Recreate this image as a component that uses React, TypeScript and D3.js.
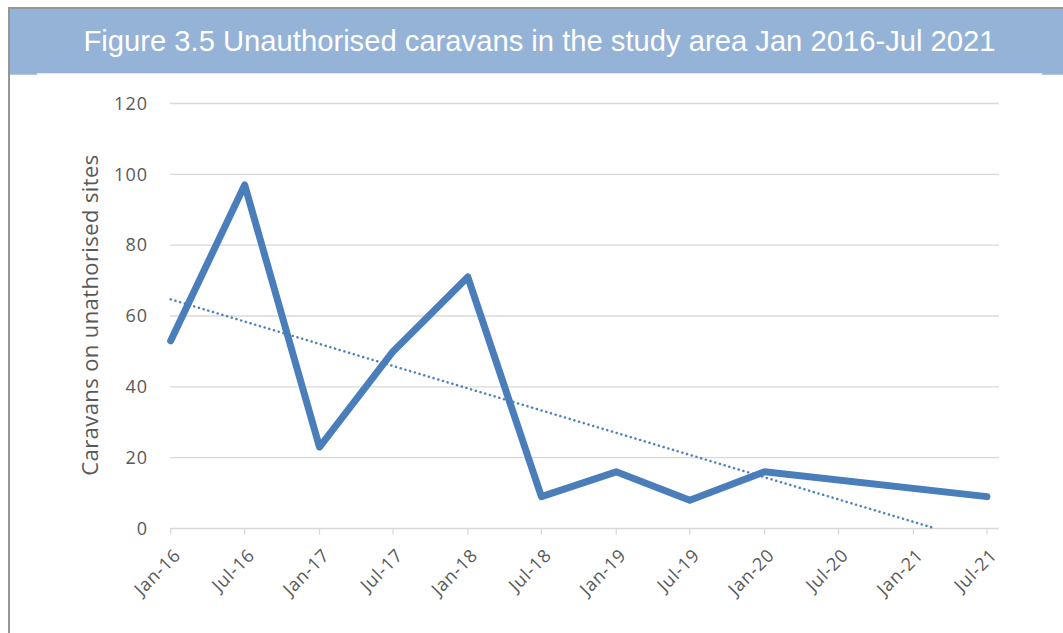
import React from "react";
import * as d3 from "d3";

const title = "Figure 3.5 Unauthorised caravans in the study area Jan 2016-Jul 2021";
const yAxisTitle = "Caravans on unathorised sites";

// observation dates (Jul-20 and Jan-21 have no count)
const dates = ["2016-01-01", "2016-07-01", "2017-01-01", "2017-07-01", "2018-01-01", "2018-07-01", "2019-01-01", "2019-07-01", "2020-01-01", "2021-07-01"];
const caravans = [53, 97, 23, 50, 71, 9, 16, 8, 16, 9];

const tickDates = ["2016-01-01", "2016-07-01", "2017-01-01", "2017-07-01", "2018-01-01", "2018-07-01", "2019-01-01", "2019-07-01", "2020-01-01", "2020-07-01", "2021-01-01", "2021-07-01"];
const tickLabels = ["Jan-16", "Jul-16", "Jan-17", "Jul-17", "Jan-18", "Jul-18", "Jan-19", "Jul-19", "Jan-20", "Jul-20", "Jan-21", "Jul-21"];
const yTicks = [0, 20, 40, 60, 80, 100, 120];

const parse = (s: string) => new Date(s + "T00:00:00Z");

export default function App() {
  const W = 1063, H = 633;
  const x = d3.scaleUtc().domain([parse("2016-01-01"), parse("2021-07-29")]).range([170.7, 998.3]);
  const y = d3.scaleLinear().domain([0, 120]).range([528.5, 103.5]);

  const pts = dates.map((d, i) => ({ d: parse(d), v: caravans[i] }));
  const line = d3.line<{ d: Date; v: number }>().x(p => x(p.d)).y(p => y(p.v));

  // linear trendline (least squares on day values)
  const day = (d: Date) => d.getTime() / 86400000;
  const xs = pts.map(p => day(p.d));
  const ys = pts.map(p => p.v);
  const mx = d3.mean(xs)!, my = d3.mean(ys)!;
  const sxy = d3.sum(xs.map((v, i) => (v - mx) * (ys[i] - my)));
  const sxx = d3.sum(xs.map(v => (v - mx) * (v - mx)));
  const slope = sxy / sxx;
  const icpt = my - slope * mx;
  const x0 = xs[0];
  let x1 = xs[xs.length - 1];
  const zeroX = -icpt / slope;
  if (zeroX < x1) x1 = zeroX;
  const tStart = new Date(x0 * 86400000), tEnd = new Date(x1 * 86400000);

  const grey = "#595959";
  const font = "'Open Sans', 'Liberation Sans', sans-serif";

  return (
    <svg width={W} height={H} style={{ position: "absolute", left: 0, top: 0, display: "block" }}>
      <rect x={0} y={0} width={W} height={H} fill="#ffffff" />
      {/* frame and title band */}
      <rect x={10} y={9} width={W - 10} height={65.7} fill="#95B3D7" />
      <rect x={37} y={73.3} width={1005} height={3} fill="#ffffff" />
      <rect x={8} y={7} width={W - 8} height={2} fill="#969696" />
      <rect x={8} y={7} width={2} height={H - 7} fill="#969696" />
      <text x={83.5} y={51} fill="#ffffff" fontFamily="'Liberation Sans', Arial, sans-serif" fontSize={29}
        textLength={912} lengthAdjust="spacingAndGlyphs">{title}</text>

      {/* gridlines */}
      {yTicks.map(t => (
        <line key={"g" + t} x1={170} x2={999} y1={y(t)} y2={y(t)} stroke="#d9d9d9" strokeWidth={1.3} />
      ))}
      {yTicks.map(t => (
        <text key={"yl" + t} x={148} y={y(t)} dy="0.35em" textAnchor="end" fill={grey} fontFamily={font}
          fontSize={18} letterSpacing={1}>{t}</text>
      ))}
      {/* x ticks */}
      {tickDates.map((d, i) => {
        const tx = x(parse(d));
        return (
          <g key={"xt" + i}>
            <line x1={tx} x2={tx} y1={y(0)} y2={y(0) + 6} stroke="#d9d9d9" strokeWidth={1.3} />
            <text transform={`translate(${tx + 11},${y(0) + 28}) rotate(-45)`} textAnchor="end" fill={grey}
              fontFamily={font} fontSize={18} letterSpacing={0.7}>{tickLabels[i]}</text>
          </g>
        );
      })}
      <text transform={`translate(98,${315}) rotate(-90)`} textAnchor="middle" fill={grey} fontFamily={font}
        fontSize={22} letterSpacing={0.4}>{yAxisTitle}</text>

      {/* trendline */}
      <line x1={x(tStart)} y1={y(icpt + slope * x0)} x2={x(tEnd)} y2={y(icpt + slope * x1)}
        stroke="#4F81BD" strokeWidth={2.5} strokeDasharray="0.1 4.8" strokeLinecap="round" />
      {/* data line */}
      <path d={line(pts) || ""} fill="none" stroke="#4A7EBB" strokeWidth={7} strokeLinejoin="round" strokeLinecap="round" />
    </svg>
  );
}
